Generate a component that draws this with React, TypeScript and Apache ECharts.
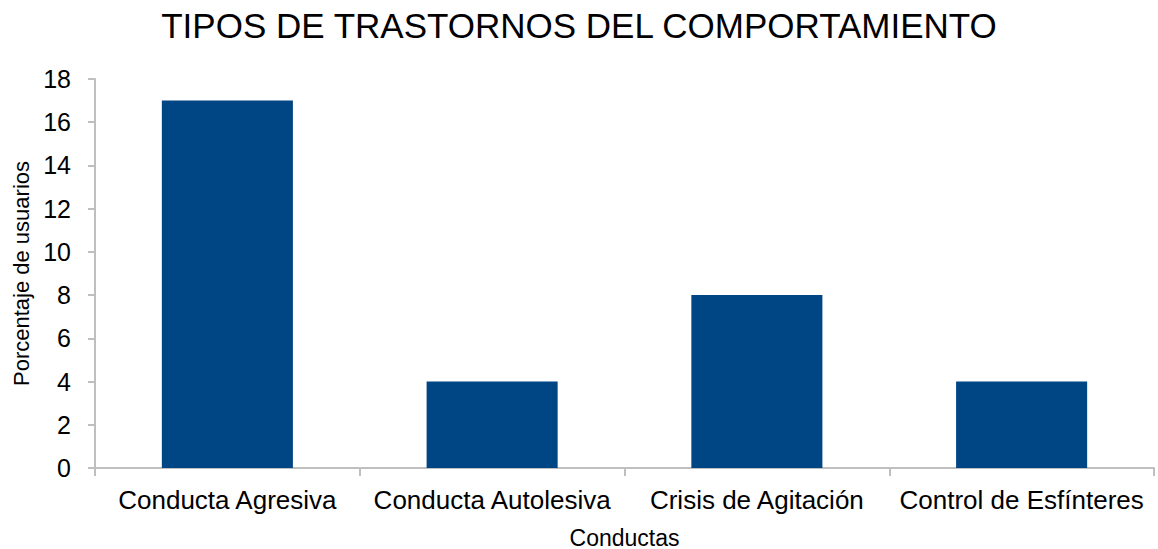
import React, { useEffect, useRef } from "react";
import * as echarts from "echarts";

const categories = ["Conducta Agresiva", "Conducta Autolesiva", "Crisis de Agitación", "Control de Esfínteres"];
const values = [17, 4, 8, 4];
const title = "TIPOS DE TRASTORNOS DEL COMPORTAMIENTO";
const xName = "Conductas";
const yName = "Porcentaje de usuarios";

export default function App() {
  const ref = useRef<HTMLDivElement>(null);
  useEffect(() => {
    const chart = echarts.init(ref.current!, null, { renderer: "svg" });
    const font = "'Liberation Sans', Arial, sans-serif";
    chart.setOption({
      animation: false,
      backgroundColor: "#ffffff",
      textStyle: { fontFamily: font },
      title: {
        text: title,
        left: "center",
        top: 3,
        textStyle: { fontFamily: font, fontSize: 35, fontWeight: "normal", color: "#000" },
      },
      grid: { left: 95, right: 4, top: 79, bottom: 81, containLabel: false, outerBoundsMode: "none" },
      xAxis: {
        type: "category",
        data: categories,
        name: xName,
        nameLocation: "middle",
        nameGap: 58,
        nameTextStyle: { fontFamily: font, fontSize: 23, color: "#000" },
        axisLine: { lineStyle: { color: "#bfbfbf", width: 2 } },
        axisTick: { show: true, length: 8, lineStyle: { color: "#bfbfbf", width: 2 } },
        axisLabel: { fontFamily: font, fontSize: 26, color: "#000", margin: 19, interval: 0 },
        splitLine: { show: false },
      },
      yAxis: {
        type: "value",
        min: 0,
        max: 18,
        interval: 2,
        name: yName,
        nameLocation: "middle",
        nameGap: 62,
        nameTextStyle: { fontFamily: font, fontSize: 22, color: "#000" },
        axisLine: { show: true, lineStyle: { color: "#bfbfbf", width: 2 } },
        axisTick: { show: true, length: 7, lineStyle: { color: "#bfbfbf", width: 2 } },
        axisLabel: { fontFamily: font, fontSize: 25, color: "#000", margin: 24 },
        splitLine: { show: false },
      },
      series: [
        {
          type: "bar",
          data: values,
          barWidth: "49.5%",
          itemStyle: { color: "#004584" },
        },
      ],
    });
    return () => chart.dispose();
  }, []);
  return <div ref={ref} style={{ position: "absolute", left: 0, top: 0, width: 1158, height: 549 }} />;
}
